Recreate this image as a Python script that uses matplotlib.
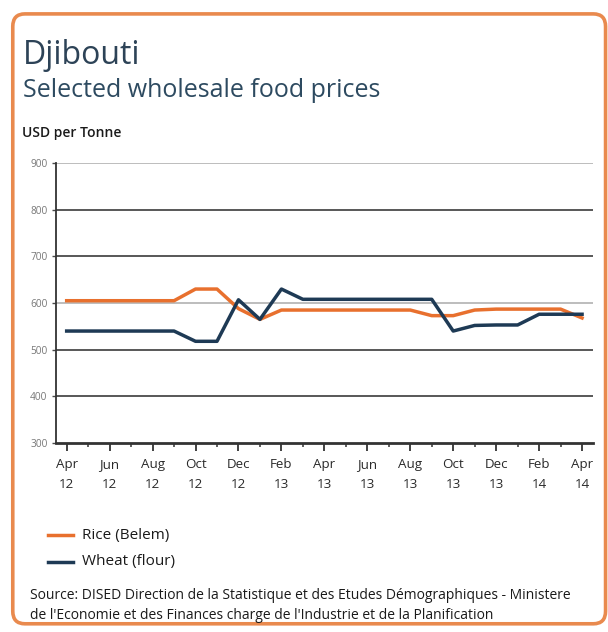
import matplotlib
matplotlib.use("Agg")
import matplotlib.pyplot as plt
from matplotlib.patches import FancyBboxPatch
from matplotlib.lines import Line2D

# Monthly prices, Apr 2012 – Apr 2014 (USD per tonne)
months = ["Apr 12", "May 12", "Jun 12", "Jul 12", "Aug 12", "Sep 12", "Oct 12",
          "Nov 12", "Dec 12", "Jan 13", "Feb 13", "Mar 13", "Apr 13", "May 13",
          "Jun 13", "Jul 13", "Aug 13", "Sep 13", "Oct 13", "Nov 13", "Dec 13",
          "Jan 14", "Feb 14", "Mar 14", "Apr 14"]
rice = [605, 605, 605, 605, 605, 605, 630, 630, 588, 565, 585, 585, 585, 585,
        585, 585, 585, 573, 573, 585, 587, 587, 587, 587, 568]
wheat = [540, 540, 540, 540, 540, 540, 518, 518, 607, 565, 630, 608, 608, 608,
         608, 608, 608, 608, 540, 552, 553, 553, 576, 576, 576]

tick_labels = ["Apr\n12", "Jun\n12", "Aug\n12", "Oct\n12", "Dec\n12", "Feb\n13",
               "Apr\n13", "Jun\n13", "Aug\n13", "Oct\n13", "Dec\n13", "Feb\n14",
               "Apr\n14"]
y_ticks = [300, 400, 500, 600, 700, 800, 900]
series_names = ["Rice (Belem)", "Wheat (flour)"]

ORANGE = "#E8702E"
NAVY = "#1E3A55"
FONT = "Open Sans"

fig = plt.figure(figsize=(6.08, 6.32), dpi=100)
fig.patch.set_facecolor("white")

# Rounded orange frame behind everything
frame = FancyBboxPatch((0.021, 0.013), 0.975, 0.965,
                       boxstyle="round,pad=0,rounding_size=0.02",
                       transform=fig.transFigure, facecolor="white",
                       edgecolor="#E98A4E", linewidth=2.6, zorder=-10)
fig.add_artist(frame)

fig.text(0.038, 0.899, "Djibouti", fontsize=23, color="#2D4357",
         family=FONT, va="baseline")
fig.text(0.038, 0.847, "Selected wholesale food prices", fontsize=18,
         color="#2D4A60", family=FONT, va="baseline")
fig.text(0.036, 0.784, "USD per Tonne", fontsize=10, color="#1A1A1A",
         family=FONT, fontweight="semibold", va="baseline")

ax = fig.add_axes([0.092, 0.299, 0.883, 0.443])
x = list(range(len(months)))

# Horizontal gridlines: 600 and 900 in light grey, the rest darker
for v in y_ticks[1:]:
    c = "#B8B8B8" if v in (600, 900) else "#4A4A4A"
    ax.axhline(v, color=c, linewidth=1.3, zorder=1)

ax.plot(x, rice, color=ORANGE, linewidth=2.5, zorder=3, solid_joinstyle="round")
ax.plot(x, wheat, color=NAVY, linewidth=2.5, zorder=4, solid_joinstyle="round")

ax.set_xlim(-0.5, 24.5)
ax.set_ylim(300, 900)
ax.set_yticks(y_ticks)
ax.set_yticklabels([str(v) for v in y_ticks], fontsize=7.3, color="#777777",
                   family=FONT)
ax.tick_params(axis="y", length=3, width=1, color="#4A4A4A", pad=3)

ax.set_xticks(range(0, 25, 2))
ax.set_xticklabels(tick_labels, fontsize=9.6, color="#2A2A2A", family=FONT,
                   linespacing=1.65)
ax.set_xticks(range(1, 25, 2), minor=True)
ax.tick_params(axis="x", which="major", length=6, width=1.3, color="#333333",
               pad=5)
ax.tick_params(axis="x", which="minor", length=3, width=1.1, color="#333333")

for s in ("top", "right"):
    ax.spines[s].set_visible(False)
ax.spines["left"].set_color("#333333")
ax.spines["left"].set_linewidth(1.3)
ax.spines["bottom"].set_color("#333333")
ax.spines["bottom"].set_linewidth(2.0)
ax.set_facecolor("none")

# Legend keys and labels
W, H = 608, 632
for name, color, ypx in zip(series_names, [ORANGE, NAVY], [535, 562]):
    yf = 1 - ypx / H
    fig.add_artist(Line2D([48 / W, 73 / W], [yf, yf], color=color,
                          linewidth=2.5, transform=fig.transFigure))
    fig.text(82 / W, yf, name, fontsize=11, color="#1A1A1A", family=FONT,
             va="center")

fig.text(30 / W, 1 - 599 / H,
         "Source: DISED Direction de la Statistique et des Etudes D\u00e9mographiques - Ministere",
         fontsize=10, color="#1A1A1A", family=FONT, va="baseline")
fig.text(30 / W, 1 - 619 / H,
         "de l'Economie et des Finances charge de l'Industrie et de la Planification",
         fontsize=10, color="#1A1A1A", family=FONT, va="baseline")

fig.savefig("out.png", dpi=100, facecolor="white")
